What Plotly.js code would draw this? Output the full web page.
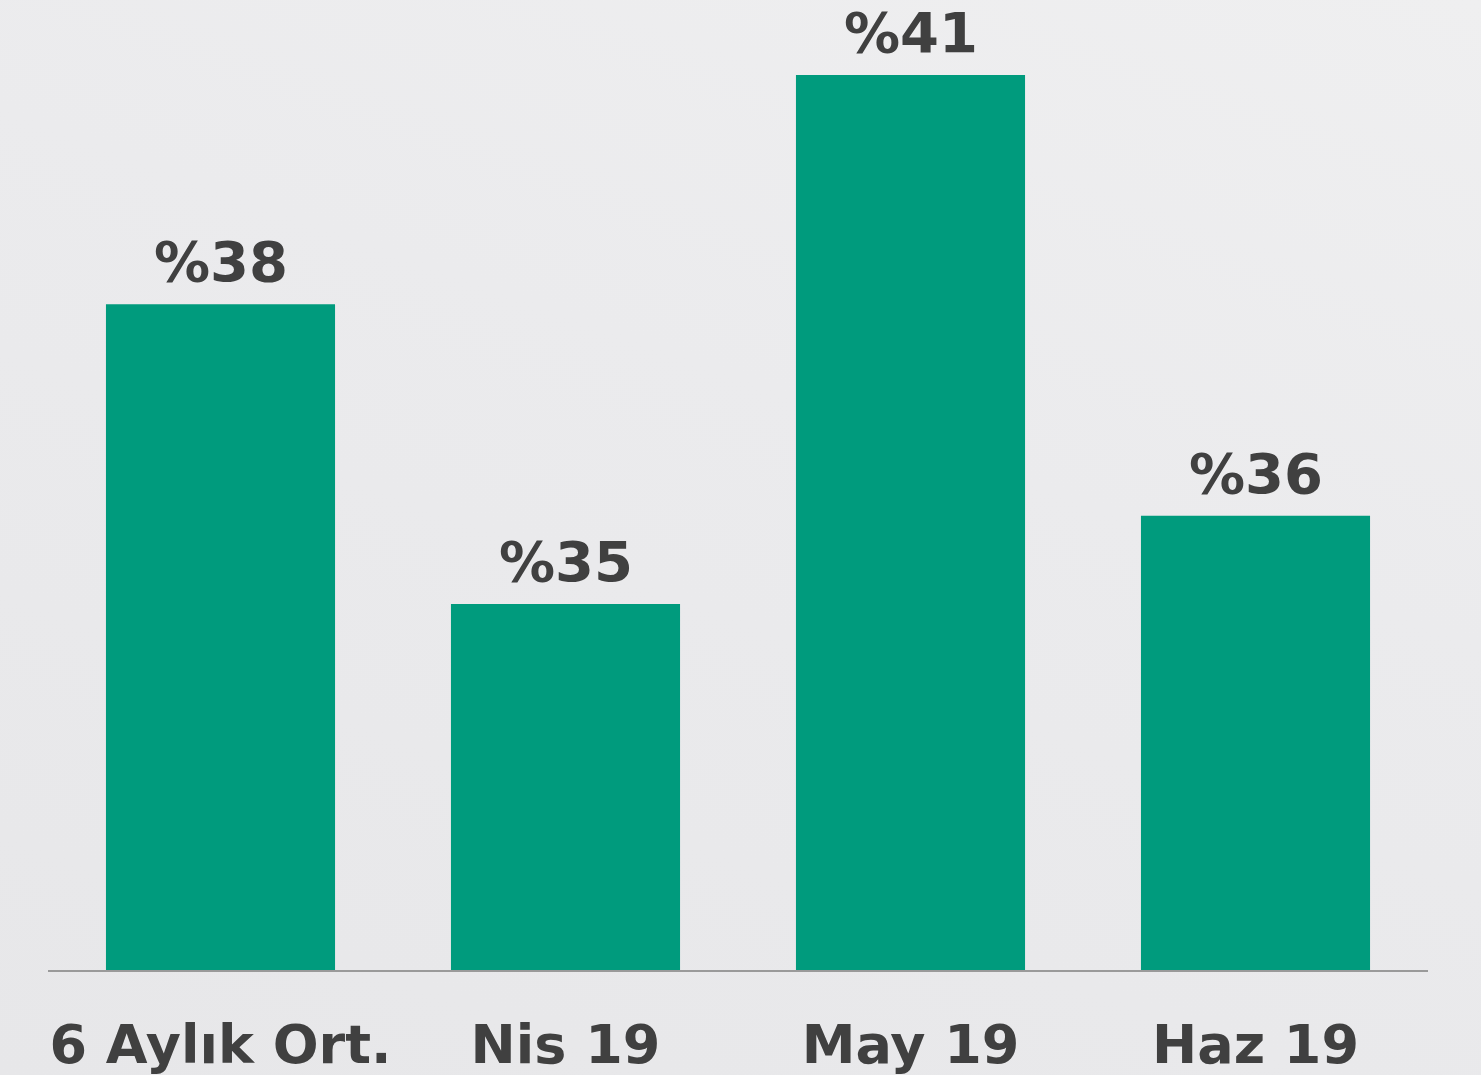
<!DOCTYPE html>
<html>
<head>
<meta charset="utf-8">
<script src="https://cdn.plot.ly/plotly-3.0.1.min.js"></script>
<style>
html,body{margin:0;padding:0;}
body{background:linear-gradient(200deg,#efeff0 0%,#ebebed 40%,#e7e7e9 100%);width:1481px;height:1075px;overflow:hidden;}
#chart{width:1481px;height:1075px;}
</style>
</head>
<body>
<div id="chart"></div>
<script>
const categories = ['6 Aylık Ort.', 'Nis 19', 'May 19', 'Haz 19'];
const values = [38.4, 35.0, 41.0, 36.0];
const valueLabels = ['%38', '%35', '%41', '%36'];

const textColor = '#404040';
const font = 'DejaVu Sans, Verdana, sans-serif';

const trace = {
  type: 'bar',
  x: categories,
  y: values,
  marker: {color: '#009B7D'},
  width: 0.664,
  hoverinfo: 'none'
};

const annotations = categories.map((c, i) => ({
  x: c, y: values[i], xref: 'x', yref: 'y',
  text: '<b>' + valueLabels[i] + '</b>',
  showarrow: false, yanchor: 'bottom', yshift: 8,
  font: {family: font, size: 56, color: textColor}
}));

const layout = {
  width: 1481, height: 1075,
  margin: {l: 48, r: 53, t: 0, b: 105},
  paper_bgcolor: 'rgba(0,0,0,0)',
  plot_bgcolor: 'rgba(0,0,0,0)',
  showlegend: false,
  xaxis: {
    type: 'category',
    range: [-0.5, 3.5],
    showline: true, linecolor: '#9a9a9a', linewidth: 2,
    ticks: '', showgrid: false, zeroline: false,
    tickfont: {family: font, size: 54, color: textColor, weight: 'bold'},
    ticklabelstandoff: 26
  },
  yaxis: {
    range: [30.85, 41.85],
    visible: false, showgrid: false, zeroline: false
  },
  annotations: annotations
};

Plotly.newPlot('chart', [trace], layout, {staticPlot: true, displayModeBar: false});
</script>
</body>
</html>
